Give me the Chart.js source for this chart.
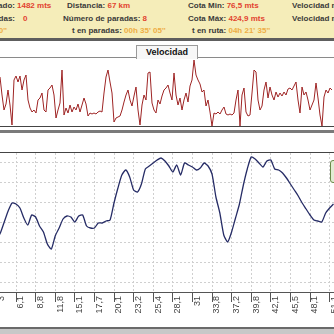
<!DOCTYPE html>
<html>
<head>
<meta charset="utf-8">
<script src="https://cdn.jsdelivr.net/npm/chart.js@4/dist/chart.umd.min.js"></script>
<style>
  html, body { margin: 0; padding: 0; width: 334px; height: 334px; overflow: hidden; background: #fff; }
  body { position: relative; font-family: "Liberation Sans", Arial, sans-serif; }
  .panel { position: absolute; left: 0; top: 0; width: 334px; height: 38px; background: #f5edb9; border-bottom: 3px solid #5e5e5e; }
  .t { position: absolute; white-space: nowrap; font-size: 8px; font-weight: bold; line-height: 10px; color: #3a3a3a; }
  .r { color: #e2432f; }
  .o { color: #eead45; }
  .tab { position: absolute; left: 136px; top: 45px; width: 60px; height: 13px; border: 1px solid #9a9a9a; border-bottom: none; background: #f7f7f7; font-size: 9px; font-weight: bold; line-height: 13px; text-align: center; color: #111; }
  .line { position: absolute; left: 0; width: 334px; }
  .box { position: absolute; }
</style>
</head>
<body>
<div class="panel"></div>
<div class="t" style="right:319px;top:1px">Desnivel acumulado:</div>
<div class="t r" style="left:17px;top:1px">1482 mts</div>
<div class="t" style="right:319px;top:14px">Paradas:</div>
<div class="t r" style="left:23px;top:14px">0</div>
<div class="t o" style="right:327px;top:26px">00h 00' 00''</div>
<div class="t" style="left:67px;top:1px">Distancia: <span class="r">67 km</span></div>
<div class="t" style="left:63px;top:14px">Número de paradas: <span class="r">8</span></div>
<div class="t" style="left:72px;top:26px">t en paradas: <span class="o">00h 35' 05''</span></div>
<div class="t" style="left:188px;top:1px">Cota Min: <span class="r">76,5 mts</span></div>
<div class="t" style="left:188px;top:14px">Cota Máx: <span class="r">424,9 mts</span></div>
<div class="t" style="left:192px;top:26px">t en ruta: <span class="o">04h 21' 35''</span></div>
<div class="t" style="left:292px;top:1px">Velocidad media:</div>
<div class="t" style="left:292px;top:14px">Velocidad máx:</div>

<div class="line" style="top:57px;height:1px;background:#8a8a8a"></div>
<div class="tab">Velocidad</div>
<div class="box" style="left:0;top:58px;width:334px;height:68px"><canvas id="speed"></canvas></div>
<div class="line" style="top:126px;height:1px;background:#444"></div>
<div class="line" style="top:130px;height:3px;background:#7a7a7a"></div>

<div class="line" style="top:152px;height:1px;background:#444"></div>
<div class="box" style="left:-20px;top:153px;width:374px;height:175px"><canvas id="elev"></canvas></div>
<div class="box" style="left:330px;top:160px;width:14px;height:21px;border:1px solid #6b8a4b;border-radius:3px;background:#e2edd3"></div>
<div class="line" style="top:327px;height:2px;background:#6a6a6a"></div>
<div class="line" style="top:329px;height:5px;background:#c8c8c8"></div>

<script>
// velocidad (km/h), una muestra cada 2 px
const speedValues = [49,31,16,22,36,21,1,46,50,44,50,36,46,51,26,18,14,16,13,26,
  28,33,16,14,36,38,41,31,8,16,23,56,11,18,13,21,14,19,16,22,
  14,21,28,22,10,13,12,13,12,14,15,14,33,49,56,44,33,4,8,9,
  10,16,24,31,36,26,20,30,39,16,1,21,31,26,53,54,23,16,13,26,
  22,30,36,38,41,33,26,53,31,21,28,16,26,33,24,40,46,66,51,46,
  42,34,36,20,26,14,0,13,12,14,12,16,19,12,11,12,11,13,26,36,
  0,31,38,14,10,11,33,56,54,26,16,20,36,44,28,39,31,26,34,29,
  33,30,34,31,37,38,36,40,44,26,13,39,31,34,26,16,21,26,43,28,
  11,0,29,36,33,38,36];

// altitud (m), 5 muestras por marca del eje
const elevValues = [176,197,230,263,287,284,272,242,221,251,245,218,200,164,149,188,212,239,248,245,
  230,248,251,218,212,212,227,227,233,236,287,332,371,386,365,326,320,344,389,398,
  407,416,422,413,398,380,401,371,407,401,395,386,392,407,398,374,305,257,191,170,
  200,242,284,341,389,425,419,407,395,413,416,389,386,377,362,344,326,308,287,269,
  251,236,233,230,257,272,284];

const distLabels = ["3","6,1","8,8","11,8","15,1","17,7","20,1","23,2","25,4","28,1",
  "31","33,8","37,2","39,8","42,1","45,5","48,1","51,1"];
const elevTicks = [50,110,170,230,290,350,410];

new Chart(document.getElementById('speed'), {
  type: 'line',
  data: {
    datasets: [{
      data: speedValues.map((v, i) => ({ x: i, y: v })),
      borderColor: '#9e2424',
      borderWidth: 1,
      pointRadius: 0,
      tension: 0
    }]
  },
  options: {
    responsive: true,
    maintainAspectRatio: false,
    animation: false,
    layout: { padding: 0 },
    plugins: { legend: { display: false }, tooltip: { enabled: false } },
    scales: {
      x: { type: 'linear', display: false, min: 0, max: 167 },
      y: { display: false, min: 0, max: 68 }
    }
  }
});

new Chart(document.getElementById('elev'), {
  type: 'line',
  data: {
    datasets: [{
      data: elevValues.map((v, i) => ({ x: i, y: v })),
      borderColor: '#262c66',
      borderWidth: 1.3,
      pointRadius: 0,
      tension: 0.2
    }]
  },
  options: {
    responsive: true,
    maintainAspectRatio: false,
    animation: false,
    layout: { padding: 0 },
    plugins: { legend: { display: false }, tooltip: { enabled: false } },
    scales: {
      x: {
        type: 'linear',
        min: -4.184,
        max: 91.224,
        afterBuildTicks: s => { s.ticks = distLabels.map((l, i) => ({ value: i * 5 })); },
        afterFit: s => { s.height = 36; },
        grid: { color: '#cfcfcf', tickColor: '#555', tickLength: 10, tickBorderDash: [] },
        border: { display: true, color: '#555', dash: [2, 2] },
        ticks: {
          autoSkip: false,
          minRotation: 90,
          maxRotation: 90,
          padding: -6,
          labelOffset: 5,
          color: '#444',
          font: { family: 'Liberation Sans', size: 9 },
          callback: v => distLabels[Math.round(v / 5)]
        }
      },
      y: {
        min: 20,
        max: 437,
        afterBuildTicks: s => { s.ticks = elevTicks.map(v => ({ value: v })); },
        afterFit: s => { s.width = 0; },
        ticks: { display: false },
        grid: { color: '#cfcfcf', drawTicks: false },
        border: { display: false, dash: [2, 2] }
      }
    }
  }
});
</script>
</body>
</html>
